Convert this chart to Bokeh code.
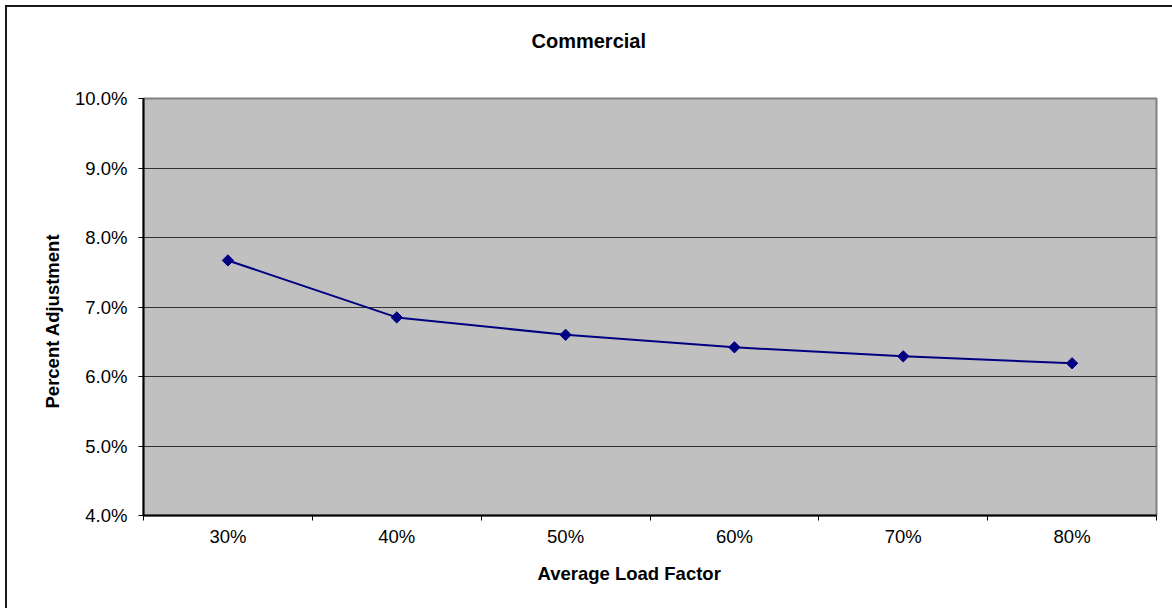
import math

from bokeh.embed import file_html
from bokeh.resources import INLINE
from bokeh.plotting import figure
from bokeh.models import ColumnDataSource, FixedTicker, NumeralTickFormatter, Range1d, Title

# Commercial load-factor adjustment curve
load_factors = ["30%", "40%", "50%", "60%", "70%", "80%"]
percent_adjustment = [0.0767, 0.0685, 0.0660, 0.0642, 0.0629, 0.0619]
y_ticks = [0.04, 0.05, 0.06, 0.07, 0.08, 0.09, 0.10]

FONT = "Liberation Sans"
TICK_SIZE = "18.5px"

# categories sit at the centre of unit-wide slots; ticks mark the slot edges
x_pos = [i + 0.5 for i in range(len(load_factors))]
edges = list(range(len(load_factors) + 1))

source = ColumnDataSource(data=dict(x=x_pos, y=percent_adjustment))

p = figure(
    width=1172, height=608,
    x_range=Range1d(0, len(load_factors)),
    y_range=Range1d(y_ticks[0], y_ticks[-1]),
    output_backend="svg", toolbar_location=None,
    min_border_left=143, min_border_right=16, min_border_top=98, min_border_bottom=93,
)
# chart-area frame: dark rules along the left and top, painted behind a transparent canvas
rule = "linear-gradient(#1a1a1a, #1a1a1a)"
p.styles = {
    "background": (f"{rule} 5px 5px / 2px 100% no-repeat, "
                   f"{rule} 5px 5px / 100% 2px no-repeat, white"),
}
p.border_fill_color = None
p.background_fill_color = "#C0C0C0"
p.outline_line_color = "#808080"
p.outline_line_width = 2

p.title = Title(
    text="Commercial", align="left", offset=388, vertical_align="top", standoff=58,
    padding=dict(left=0, right=0, top=0, bottom=16),
    text_font=FONT, text_font_size="20px", text_font_style="bold", text_color="black",
)

label_style = dict(text_font=FONT, text_font_size=TICK_SIZE, text_font_style="bold",
                   text_color="black")
# axis titles placed as side-panel titles so they can be offset along the frame
p.add_layout(Title(text="Average Load Factor", align="left", offset=394,
                   vertical_align="top", standoff=27, **label_style), "below")
p.add_layout(Title(text="Percent Adjustment", align="left", offset=107,
                   vertical_align="bottom", standoff=20, **label_style), "left")

# x axis: labels under the category centres, tick marks on the category edges
p.xaxis.ticker = FixedTicker(ticks=x_pos, minor_ticks=edges)
p.xaxis.major_label_overrides = {x: lab for x, lab in zip(x_pos, load_factors)}
p.xaxis.major_tick_out = 0
p.xaxis.major_tick_in = 0
p.xaxis.minor_tick_out = 5
p.xaxis.minor_tick_in = 0
p.xaxis.minor_tick_line_color = "black"
p.xaxis.major_label_standoff = 5

# y axis in percent
p.yaxis.ticker = FixedTicker(ticks=y_ticks)
p.yaxis.formatter = NumeralTickFormatter(format="0.0%")
p.yaxis.major_tick_out = 5
p.yaxis.major_tick_in = 0
p.yaxis.minor_tick_line_color = None
p.yaxis.major_label_standoff = 11

for ax in (p.xaxis, p.yaxis):
    ax.axis_line_color = "black"
    ax.axis_line_width = 2
    ax.major_tick_line_color = "black"
    ax.major_label_text_font = FONT
    ax.major_label_text_font_size = TICK_SIZE
    ax.major_label_text_color = "black"

p.xgrid.grid_line_color = None
p.ygrid.ticker = FixedTicker(ticks=y_ticks)
p.ygrid.grid_line_color = "#303030"
p.ygrid.grid_line_width = 1.2

p.line("x", "y", source=source, line_color="#000080", line_width=2)
p.scatter("x", "y", source=source, marker="square", angle=math.pi / 4, size=8,
          fill_color="#000080", line_color="#000080")

open("out.html", "w").write(file_html(p, INLINE))
